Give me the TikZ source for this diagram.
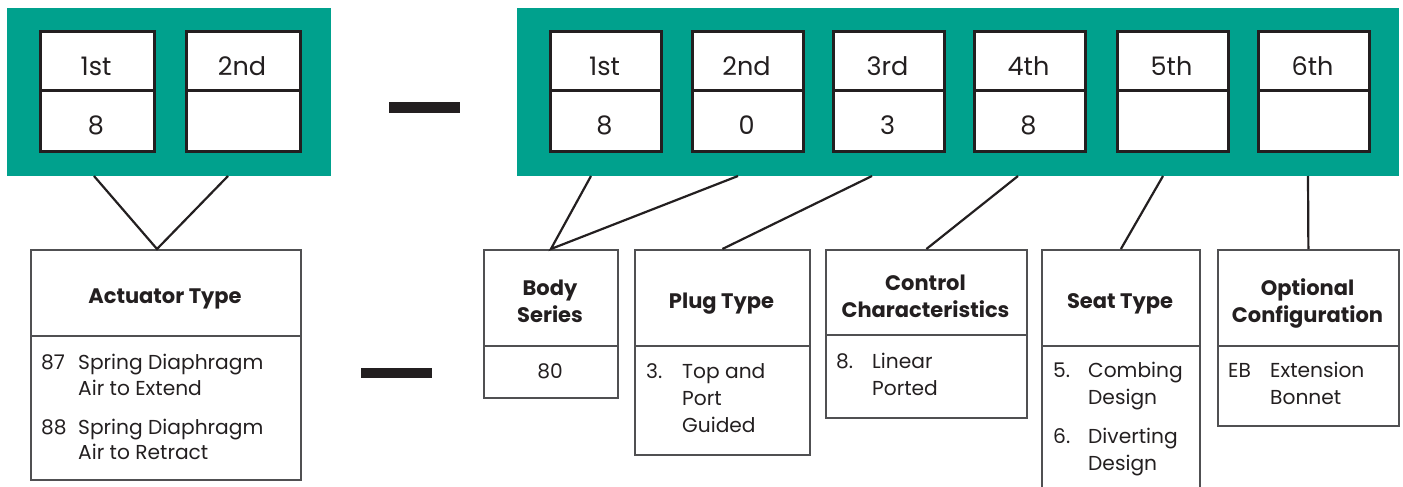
\documentclass[tikz,border=0pt]{standalone}
\usepackage{fontspec}
\setmainfont{Poppins}
\definecolor{tealfill}{HTML}{00A18D}
\definecolor{ink}{HTML}{231F20}
\definecolor{boxline}{HTML}{505052}
\begin{document}
\begin{tikzpicture}[x=1pt,y=-1pt,
  tealbox/.style={fill=tealfill, draw=none, inner sep=0pt, anchor=north west},
  cellbox/.style={fill=white, draw=ink, line width=2.6pt, inner sep=0pt, anchor=north west},
  celltext/.style={anchor=base, inner sep=0pt, text=ink, font=\fontsize{25.5}{30}\selectfont},
  titlebox/.style={draw=boxline, line width=1.8pt, inner sep=0pt, anchor=north west, align=center, text=ink, font=\fontsize{21}{27}\selectfont\bfseries},
  bodybox/.style={draw=boxline, line width=1.8pt, inner sep=0pt, anchor=north west},
  bodytext/.style={anchor=base west, inner sep=0pt, text=ink, font=\fontsize{20.2}{26}\selectfont},
  dashbar/.style={fill=ink, draw=none, inner sep=0pt, anchor=north west},
  link/.style={draw=ink, line width=2.2pt}
]
\useasboundingbox (0,0) rectangle (1403,487);

% teal panels
\node[tealbox, minimum width=324pt, minimum height=168pt] (tealL) at (7,8) {};
\node[tealbox, minimum width=882pt, minimum height=168pt] (tealR) at (517,8) {};

% left cells
\foreach \x/\n/\t/\b in {39/1/1st/8, 185/2/2nd/{}} {
  \node[cellbox, minimum width=114pt, minimum height=59pt] (lt\n) at (\x,30) {};
  \node[cellbox, minimum width=114pt, minimum height=61pt] (lb\n) at (\x,89) {};
  \node[celltext] (ltt\n) at (\x+57,75) {\t};
  \node[celltext] (lbt\n) at (\x+57,134) {\b};
}
% right cells
\foreach \x/\n/\t/\b in {549/1/1st/8, 691/2/2nd/0, 832/3/3rd/3, 973/4/4th/8, 1116/5/5th/{}, 1257/6/6th/{}} {
  \node[cellbox, minimum width=111pt, minimum height=59pt] (rt\n) at (\x,30) {};
  \node[cellbox, minimum width=111pt, minimum height=61pt] (rb\n) at (\x,89) {};
  \node[celltext] (rtt\n) at (\x+55.5,75) {\t};
  \node[celltext] (rbt\n) at (\x+55.5,134) {\b};
}

% dashes
\node[dashbar, minimum width=71pt, minimum height=11pt] (dashA) at (389,102) {};
\node[dashbar, minimum width=71pt, minimum height=10pt] (dashB) at (361,368) {};

% description boxes: titles and bodies
\node[titlebox, minimum width=270pt, minimum height=86pt] (act) at (30,249) {};
\node[bodybox, minimum width=270pt, minimum height=144pt] (actb) at (30,335) {};
\node[titlebox, minimum width=134pt, minimum height=96pt] (bod) at (483,249) {};
\node[bodybox, minimum width=134pt, minimum height=52pt] (bodb) at (483,345) {};
\node[titlebox, minimum width=175pt, minimum height=96pt] (plug) at (634,249) {};
\node[bodybox, minimum width=175pt, minimum height=109pt] (plugb) at (634,345) {};
\node[titlebox, minimum width=201pt, minimum height=85pt] (ctrl) at (825,249) {};
\node[bodybox, minimum width=201pt, minimum height=83pt] (ctrlb) at (825,334) {};
\node[titlebox, minimum width=158pt, minimum height=96pt] (seat) at (1041,249) {};
\node[bodybox, minimum width=158pt, minimum height=150pt] (seatb) at (1041,345) {};
\node[titlebox, minimum width=181pt, minimum height=96pt] (opt) at (1217,249) {};
\node[bodybox, minimum width=181pt, minimum height=80pt] (optb) at (1217,345) {};

% title texts (placed at their baselines)
\tikzset{titletext/.style={anchor=base, inner sep=0pt, text=ink, font=\fontsize{21}{27}\selectfont\bfseries}}
\node[titletext] (actt) at (165,303) {Actuator Type};
\node[titletext] (bodt1) at (550,295) {Body};
\node[titletext] (bodt2) at (550,322) {Series};
\node[titletext] (plugt) at (721.5,308) {Plug Type};
\node[titletext] (ctrlt1) at (925.5,290) {Control};
\node[titletext] (ctrlt2) at (925.5,317) {Characteristics};
\node[titletext] (seatt) at (1120,308) {Seat Type};
\node[titletext] (optt1) at (1307.5,295) {Optional};
\node[titletext] (optt2) at (1307.5,322) {Configuration};

% body texts
\node[bodytext] (a1n) at (41,369) {87};
\node[bodytext] (a1a) at (78,369) {Spring Diaphragm};
\node[bodytext] (a1b) at (78,395) {Air to Extend};
\node[bodytext] (a2n) at (41,434) {88};
\node[bodytext] (a2a) at (78,434) {Spring Diaphragm};
\node[bodytext] (a2b) at (78,459) {Air to Retract};

\node[bodytext, anchor=base] (b1) at (550,378) {80};

\node[bodytext] (p1n) at (646,378) {3.};
\node[bodytext] (p1a) at (682,378) {Top and};
\node[bodytext] (p1b) at (682,405) {Port};
\node[bodytext] (p1c) at (682,432) {Guided};

\node[bodytext] (c1n) at (836,368) {8.};
\node[bodytext] (c1a) at (872,368) {Linear};
\node[bodytext] (c1b) at (872,395) {Ported};

\node[bodytext] (s1n) at (1053,377) {5.};
\node[bodytext] (s1a) at (1088,377) {Combing};
\node[bodytext] (s1b) at (1088,404) {Design};
\node[bodytext] (s2n) at (1053,443) {6.};
\node[bodytext] (s2a) at (1088,443) {Diverting};
\node[bodytext] (s2b) at (1088,470) {Design};

\node[bodytext] (o1n) at (1228,377) {EB};
\node[bodytext] (o1a) at (1270,377) {Extension};
\node[bodytext] (o1b) at (1270,404) {Bonnet};

% connector anchor points on teal bottoms
\coordinate (ca1) at (94,176);
\coordinate (ca2) at (228,176);
\coordinate (cam) at (157,249);
\coordinate (cr1) at (591,176);
\coordinate (cr2) at (738,176);
\coordinate (cr3) at (872,176);
\coordinate (cr4) at (1018,176);
\coordinate (cr5) at (1163,176);
\coordinate (cr6) at (1308,176);

\draw[link] (ca1) -- (cam) -- (ca2);
\draw[link] (cr1) -- (bod.north) -- (cr2);
\draw[link] (cr3) -- (plug.north);
\draw[link] (cr4) -- (ctrl.north);
\draw[link] (cr5) -- (seat.north);
\draw[link] (cr6) -- (opt.north);
\end{tikzpicture}
\end{document}
